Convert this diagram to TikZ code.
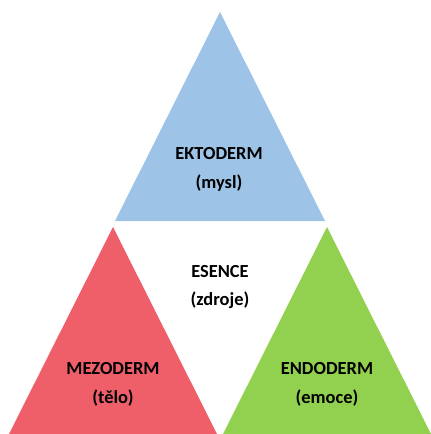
\documentclass[tikz,border=0pt]{standalone}
\usepackage{fontspec}
\setmainfont{Carlito}
\definecolor{ektoblue}{HTML}{9DC3E6}
\definecolor{mezored}{HTML}{EE5F6A}
\definecolor{endogreen}{HTML}{92D050}
\begin{document}
\begin{tikzpicture}[x=1bp,y=-1bp,
  label text/.style={align=center,font=\bfseries\fontsize{18.5}{29}\selectfont,text=black,inner sep=0pt}]
\useasboundingbox (0,0) rectangle (430,434);
% three germ-layer triangles
\fill[ektoblue]  (220,12)  -- (325,221) -- (115,221) -- cycle;
\fill[mezored]   (113,227) -- (217,434) -- (9,434)   -- cycle;
\fill[endogreen] (327,227) -- (431,434) -- (223,434) -- cycle;
% labels
\node[label text] (ekto) at (219,169) {EKTODERM\\(mysl)};
\node[label text] (esence) at (220,287) {ESENCE\\(zdroje)};
\node[label text] (mezo) at (113,384) {MEZODERM\\(tělo)};
\node[label text] (endo) at (327,384) {ENDODERM\\(emoce)};
\end{tikzpicture}
\end{document}
